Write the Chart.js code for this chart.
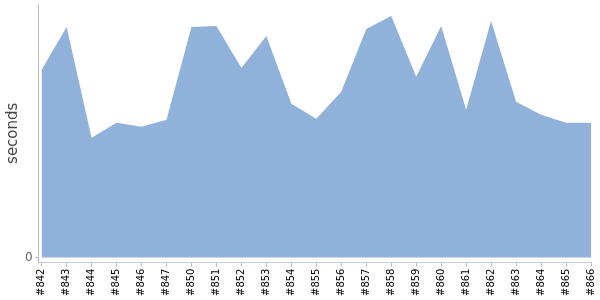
<!DOCTYPE html>
<html>
<head>
<meta charset="utf-8">
<script src="https://cdn.jsdelivr.net/npm/chart.js@4"></script>
<style>
    html, body { margin: 0; padding: 0; background: #fff; }
    #wrap { width: 600px; height: 300px; position: relative; }
</style>
</head>
<body>
<div id="wrap"><canvas id="buildChart"></canvas></div>
<script>
const builds = ['#842', '#843', '#844', '#845', '#846', '#847', '#850', '#851', '#852', '#853', '#854', '#855',
    '#856', '#857', '#858', '#859', '#860', '#861', '#862', '#863', '#864', '#865', '#866'];
const seconds = [188, 231, 120, 135, 131, 138, 231, 232, 190, 222, 154, 139,
    166, 229, 242, 181, 232, 148, 237, 156, 143, 135, 135];
const yTicks = [0];

function createBuildChart() {
    const canvas = document.getElementById('buildChart');
    if (!canvas || typeof Chart === 'undefined') {
        return;
    }

    const points = seconds.map((v, i) => ({ x: i, y: v }));

    new Chart(canvas, {
        type: 'line',
        data: {
            datasets: [
                {
                    label: 'seconds',
                    data: points,
                    fill: 'origin',
                    backgroundColor: 'rgb(143, 177, 218)',
                    borderWidth: 0,
                    pointRadius: 0,
                    tension: 0,
                },
            ],
        },
        options: {
            responsive: true,
            maintainAspectRatio: false,
            animation: false,
            layout: {
                padding: { top: 4, right: 9, bottom: 2, left: 4 },
            },
            scales: {
                x: {
                    type: 'linear',
                    min: -0.12,
                    max: builds.length - 1,
                    afterBuildTicks: (axis) => {
                        axis.ticks = builds.map((b, i) => ({ value: i }));
                    },
                    // no extra room for the rotated last label
                    afterFit: (axis) => {
                        axis.paddingLeft = 0;
                        axis.paddingRight = 0;
                    },
                    ticks: {
                        color: '#000',
                        font: { family: 'DejaVu Sans', size: 10 },
                        maxRotation: 90,
                        minRotation: 90,
                        autoSkip: false,
                        padding: 2,
                        callback: (v) => builds[v],
                    },
                    grid: {
                        drawOnChartArea: false,
                        color: '#bbb',
                        tickLength: 4,
                    },
                    border: { color: '#ccc' },
                },
                y: {
                    min: -5,
                    max: 254,
                    afterBuildTicks: (axis) => {
                        axis.ticks = yTicks.map((v) => ({ value: v }));
                    },
                    afterFit: (axis) => {
                        axis.paddingTop = 0;
                    },
                    ticks: {
                        color: '#666',
                        font: { family: 'DejaVu Sans', size: 12 },
                        padding: 3,
                    },
                    grid: {
                        drawOnChartArea: false,
                        color: '#bbb',
                        tickLength: 3,
                    },
                    border: { color: '#bbb' },
                    title: {
                        display: true,
                        text: 'seconds',
                        color: '#444',
                        font: { family: 'DejaVu Sans', size: 15 },
                        padding: { top: 0, bottom: 0 },
                    },
                },
            },
            plugins: {
                legend: { display: false },
                tooltip: { enabled: false },
            },
        },
    });
}

document.addEventListener('DOMContentLoaded', () => {
    createBuildChart();
});
</script>
</body>
</html>
